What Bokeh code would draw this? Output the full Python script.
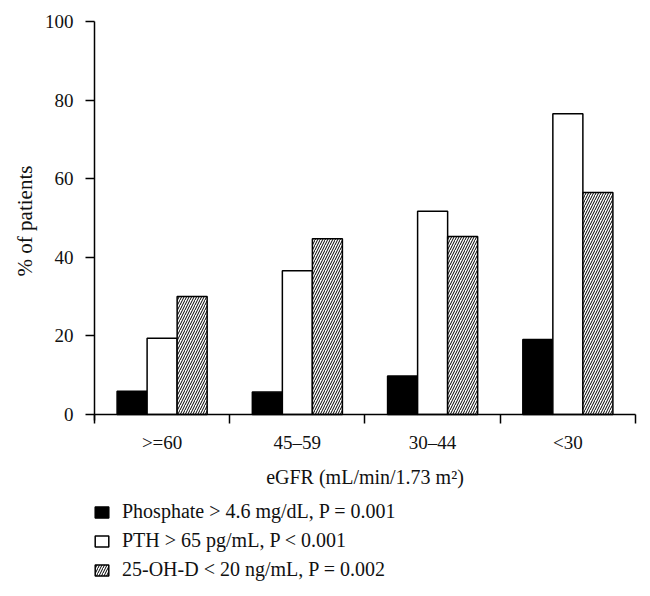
from bokeh.plotting import figure
from bokeh.models import Range1d, FixedTicker, Legend, LegendItem, Label, LinearAxis
from bokeh.embed import file_html
from bokeh.resources import INLINE

# ---- data ----
categories = [">=60", "45\u201359", "30\u201344", "<30"]
phosphate = [5.9, 5.7, 9.8, 19.1]
pth = [19.4, 36.6, 51.7, 76.5]
vitd = [30.0, 44.7, 45.3, 56.5]
series_labels = [
    "Phosphate > 4.6 mg/dL, P = 0.001",
    "PTH > 65 pg/mL, P < 0.001",
    "25-OH-D < 20 ng/mL, P = 0.002",
]
y_ticks = [0, 20, 40, 60, 80, 100]
x_title = "eGFR (mL/min/1.73 m\u00b2)"
y_title = "% of patients"

FONT = "Liberation Serif"
TXT = "#111111"

n = len(categories)
# frame covers the whole canvas; axes are pinned at 0 so outer texts stay inside
p = figure(width=650, height=596,
           x_range=Range1d(-0.695, n + 0.111), y_range=Range1d(-46.3, 105.34),
           x_axis_type=None, y_axis_type=None,
           output_backend="svg", toolbar_location=None,
           min_border=0)
p.outline_line_color = None
p.grid.grid_line_color = None
p.background_fill_color = "white"

bw = 0.222
centers = [i + 0.5 for i in range(n)]
r1 = p.vbar(x=[c - bw for c in centers], top=phosphate, width=bw, bottom=0,
            fill_color="black", line_color="black", line_width=1.5)
r2 = p.vbar(x=centers, top=pth, width=bw, bottom=0,
            fill_color="white", line_color="black", line_width=1.5)
r3 = p.vbar(x=[c + bw for c in centers], top=vitd, width=bw, bottom=0,
            fill_color="white", line_color="black", line_width=1.5,
            hatch_pattern="/", hatch_color="black", hatch_scale=5, hatch_weight=1)

# x axis
xa = LinearAxis(fixed_location=0, bounds=(0, n))
xa.ticker = FixedTicker(ticks=centers, minor_ticks=[float(i) for i in range(n + 1)])
xa.major_label_overrides = {c: lab for c, lab in zip(centers, categories)}
xa.major_tick_out = 0
xa.major_tick_in = 0
xa.minor_tick_out = 9
xa.minor_tick_in = 0
xa.minor_tick_line_color = "black"
xa.minor_tick_line_width = 1.5
xa.axis_line_color = "black"
xa.axis_line_width = 1.5
xa.major_label_standoff = 8
xa.major_label_text_font = FONT
xa.major_label_text_font_size = "19px"
xa.major_label_text_color = TXT
p.add_layout(xa, "below")

# y axis
ya = LinearAxis(fixed_location=0, bounds=(-1.5, 100))
ya.ticker = FixedTicker(ticks=y_ticks)
ya.major_tick_out = 9
ya.major_tick_in = 0
ya.minor_tick_out = 0
ya.minor_tick_in = 0
ya.major_tick_line_color = "black"
ya.major_tick_line_width = 1.5
ya.axis_line_color = "black"
ya.axis_line_width = 1.5
ya.major_label_standoff = 12
ya.major_label_text_font = FONT
ya.major_label_text_font_size = "19px"
ya.major_label_text_color = TXT
ya.axis_label = y_title
ya.axis_label_text_font = FONT
ya.axis_label_text_font_size = "21px"
ya.axis_label_text_font_style = "normal"
ya.axis_label_text_color = TXT
ya.axis_label_standoff = 5
p.add_layout(ya, "left")

# x title centred under the axis
p.add_layout(Label(x=n / 2, y=-16.0, text=x_title, text_align="center", text_baseline="middle",
                   text_font=FONT, text_font_size="20px", text_color=TXT))

legend = Legend(items=[LegendItem(label=series_labels[0], renderers=[r1]),
                       LegendItem(label=series_labels[1], renderers=[r2]),
                       LegendItem(label=series_labels[2], renderers=[r3])],
                location=(93, 15), orientation="vertical",
                glyph_width=17, glyph_height=14, label_height=22, spacing=6,
                label_standoff=12, padding=0, margin=0,
                border_line_color=None, background_fill_alpha=0,
                label_text_font=FONT, label_text_font_size="20px", label_text_color=TXT)
p.add_layout(legend, "center")

open("out.html", "w").write(file_html(p, INLINE))
